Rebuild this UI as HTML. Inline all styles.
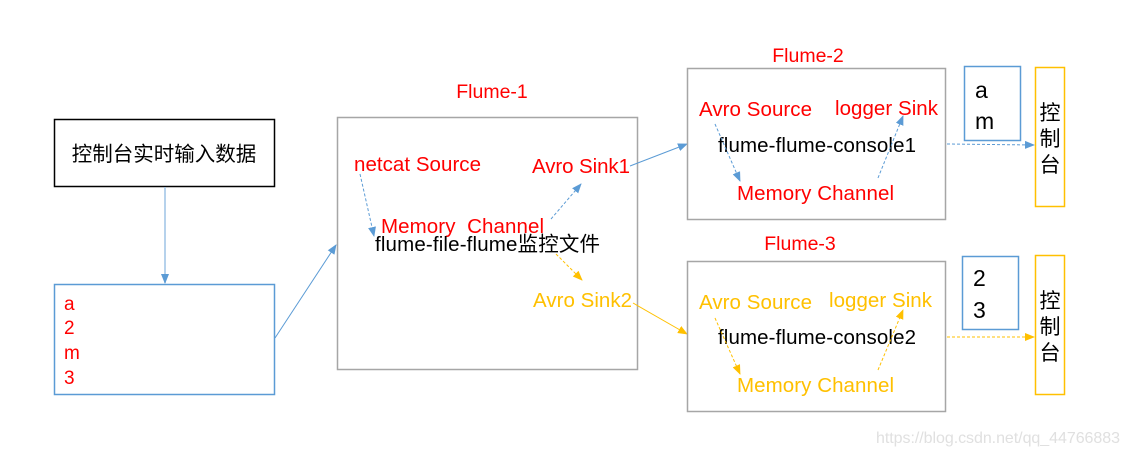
<!DOCTYPE html>
<html><head><meta charset="utf-8"><style>
html,body{margin:0;padding:0;background:#fff;}
svg{display:block;}
text{font-family:"Liberation Sans","Noto Sans CJK SC",sans-serif;}
</style></head><body>
<svg width="1130" height="455" viewBox="0 0 1130 455" xmlns="http://www.w3.org/2000/svg">
<defs>
<marker id="ab" markerWidth="10" markerHeight="10" refX="9" refY="5" orient="auto" markerUnits="userSpaceOnUse"><path d="M0,1 L10,5 L0,9 z" fill="#5b9bd5"/></marker>
<marker id="ao" markerWidth="10" markerHeight="10" refX="9" refY="5" orient="auto" markerUnits="userSpaceOnUse"><path d="M0,1 L10,5 L0,9 z" fill="#ffc000"/></marker>
</defs>
<rect x="54.5" y="119.5" width="220" height="67" fill="none" stroke="#000" stroke-width="1.5"/>
<text x="164" y="161" font-size="20.5" text-anchor="middle" fill="#000">控制台实时输入数据</text>
<line x1="165" y1="187" x2="165" y2="283" stroke="#9dc3e6" stroke-width="1.5" marker-end="url(#ab)"/>
<rect x="54.5" y="284.5" width="220" height="110" fill="none" stroke="#5b9bd5" stroke-width="1.5"/>
<g fill="#ff0000" font-size="19">
<text x="64" y="310">a</text><text x="64" y="334">2</text><text x="64" y="359">m</text><text x="64" y="384">3</text>
</g>
<line x1="275" y1="338" x2="336" y2="245" stroke="#5b9bd5" stroke-width="1" marker-end="url(#ab)"/>
<text x="492" y="98" font-size="19.5" text-anchor="middle" fill="#ff0000">Flume-1</text>
<rect x="337.5" y="117.5" width="300" height="252" fill="none" stroke="#a6a6a6" stroke-width="1.5"/>
<text x="354" y="171" font-size="20.5" fill="#ff0000" textLength="127">netcat Source</text>
<text x="532" y="173" font-size="20.5" fill="#ff0000" textLength="98">Avro Sink1</text>
<text x="381" y="233" font-size="20.5" fill="#ff0000" xml:space="preserve" textLength="163">Memory  Channel</text>
<text x="375" y="251" font-size="20.5" fill="#000" textLength="225">flume-file-flume监控文件</text>
<text x="533" y="307" font-size="20.5" fill="#ffc000" textLength="99">Avro Sink2</text>
<line x1="360" y1="174" x2="374" y2="236" stroke="#5b9bd5" stroke-width="1" stroke-dasharray="3,2" marker-end="url(#ab)"/>
<line x1="551" y1="219" x2="581" y2="184" stroke="#5b9bd5" stroke-width="1" stroke-dasharray="3,2" marker-end="url(#ab)"/>
<line x1="556" y1="254" x2="582" y2="280" stroke="#ffc000" stroke-width="1" stroke-dasharray="3,2" marker-end="url(#ao)"/>
<line x1="630" y1="166" x2="687" y2="144" stroke="#5b9bd5" stroke-width="1" marker-end="url(#ab)"/>
<line x1="633" y1="303" x2="687" y2="334" stroke="#ffc000" stroke-width="1" marker-end="url(#ao)"/>
<text x="808" y="62" font-size="19.5" text-anchor="middle" fill="#ff0000">Flume-2</text>
<rect x="687.5" y="68.5" width="258" height="151" fill="none" stroke="#a6a6a6" stroke-width="1.5"/>
<text x="699" y="116" font-size="20.5" fill="#ff0000" textLength="113">Avro Source</text>
<text x="835" y="115" font-size="20.5" fill="#ff0000" textLength="103">logger Sink</text>
<text x="718" y="152" font-size="20.5" fill="#000" textLength="198">flume-flume-console1</text>
<text x="737" y="200" font-size="20.5" fill="#ff0000" textLength="157">Memory Channel</text>
<line x1="715" y1="124" x2="740" y2="181" stroke="#5b9bd5" stroke-width="1" stroke-dasharray="3,2" marker-end="url(#ab)"/>
<line x1="878" y1="178" x2="903" y2="116" stroke="#5b9bd5" stroke-width="1" stroke-dasharray="3,2" marker-end="url(#ab)"/>
<line x1="947" y1="144" x2="1034" y2="145" stroke="#5b9bd5" stroke-width="1" stroke-dasharray="3,2" marker-end="url(#ab)"/>
<rect x="964.5" y="66.5" width="56" height="74" fill="none" stroke="#5b9bd5" stroke-width="1.5"/>
<text x="975" y="98" font-size="23" fill="#000">a</text>
<text x="975" y="129" font-size="23" fill="#000">m</text>
<rect x="1035.5" y="67.5" width="29" height="139" fill="none" stroke="#ffc000" stroke-width="1.5"/>
<g font-size="21" fill="#000" text-anchor="middle"><text x="1050" y="120">控</text><text x="1050" y="146">制</text><text x="1050" y="172">台</text></g>
<text x="800" y="250" font-size="19.5" text-anchor="middle" fill="#ff0000">Flume-3</text>
<rect x="687.5" y="261.5" width="258" height="150" fill="none" stroke="#a6a6a6" stroke-width="1.5"/>
<text x="699" y="309" font-size="20.5" fill="#ffc000" textLength="113">Avro Source</text>
<text x="829" y="307" font-size="20.5" fill="#ffc000" textLength="103">logger Sink</text>
<text x="718" y="344" font-size="20.5" fill="#000" textLength="198">flume-flume-console2</text>
<text x="737" y="392" font-size="20.5" fill="#ffc000" textLength="157">Memory Channel</text>
<line x1="715" y1="318" x2="740" y2="374" stroke="#ffc000" stroke-width="1" stroke-dasharray="3,2" marker-end="url(#ao)"/>
<line x1="878" y1="370" x2="903" y2="310" stroke="#ffc000" stroke-width="1" stroke-dasharray="3,2" marker-end="url(#ao)"/>
<line x1="947" y1="337" x2="1034" y2="337" stroke="#ffc000" stroke-width="1" stroke-dasharray="3,2" marker-end="url(#ao)"/>
<rect x="962.5" y="256.5" width="56" height="73" fill="none" stroke="#5b9bd5" stroke-width="1.5"/>
<text x="973" y="286" font-size="23" fill="#000">2</text>
<text x="973" y="318" font-size="23" fill="#000">3</text>
<rect x="1035.5" y="255.5" width="29" height="139" fill="none" stroke="#ffc000" stroke-width="1.5"/>
<g font-size="21" fill="#000" text-anchor="middle"><text x="1050" y="308">控</text><text x="1050" y="334">制</text><text x="1050" y="360">台</text></g>
<text x="1120" y="443" font-size="16" text-anchor="end" fill="#e0e0e0" textLength="244">https://blog.csdn.net/qq_44766883</text>
</svg>
</body></html>
